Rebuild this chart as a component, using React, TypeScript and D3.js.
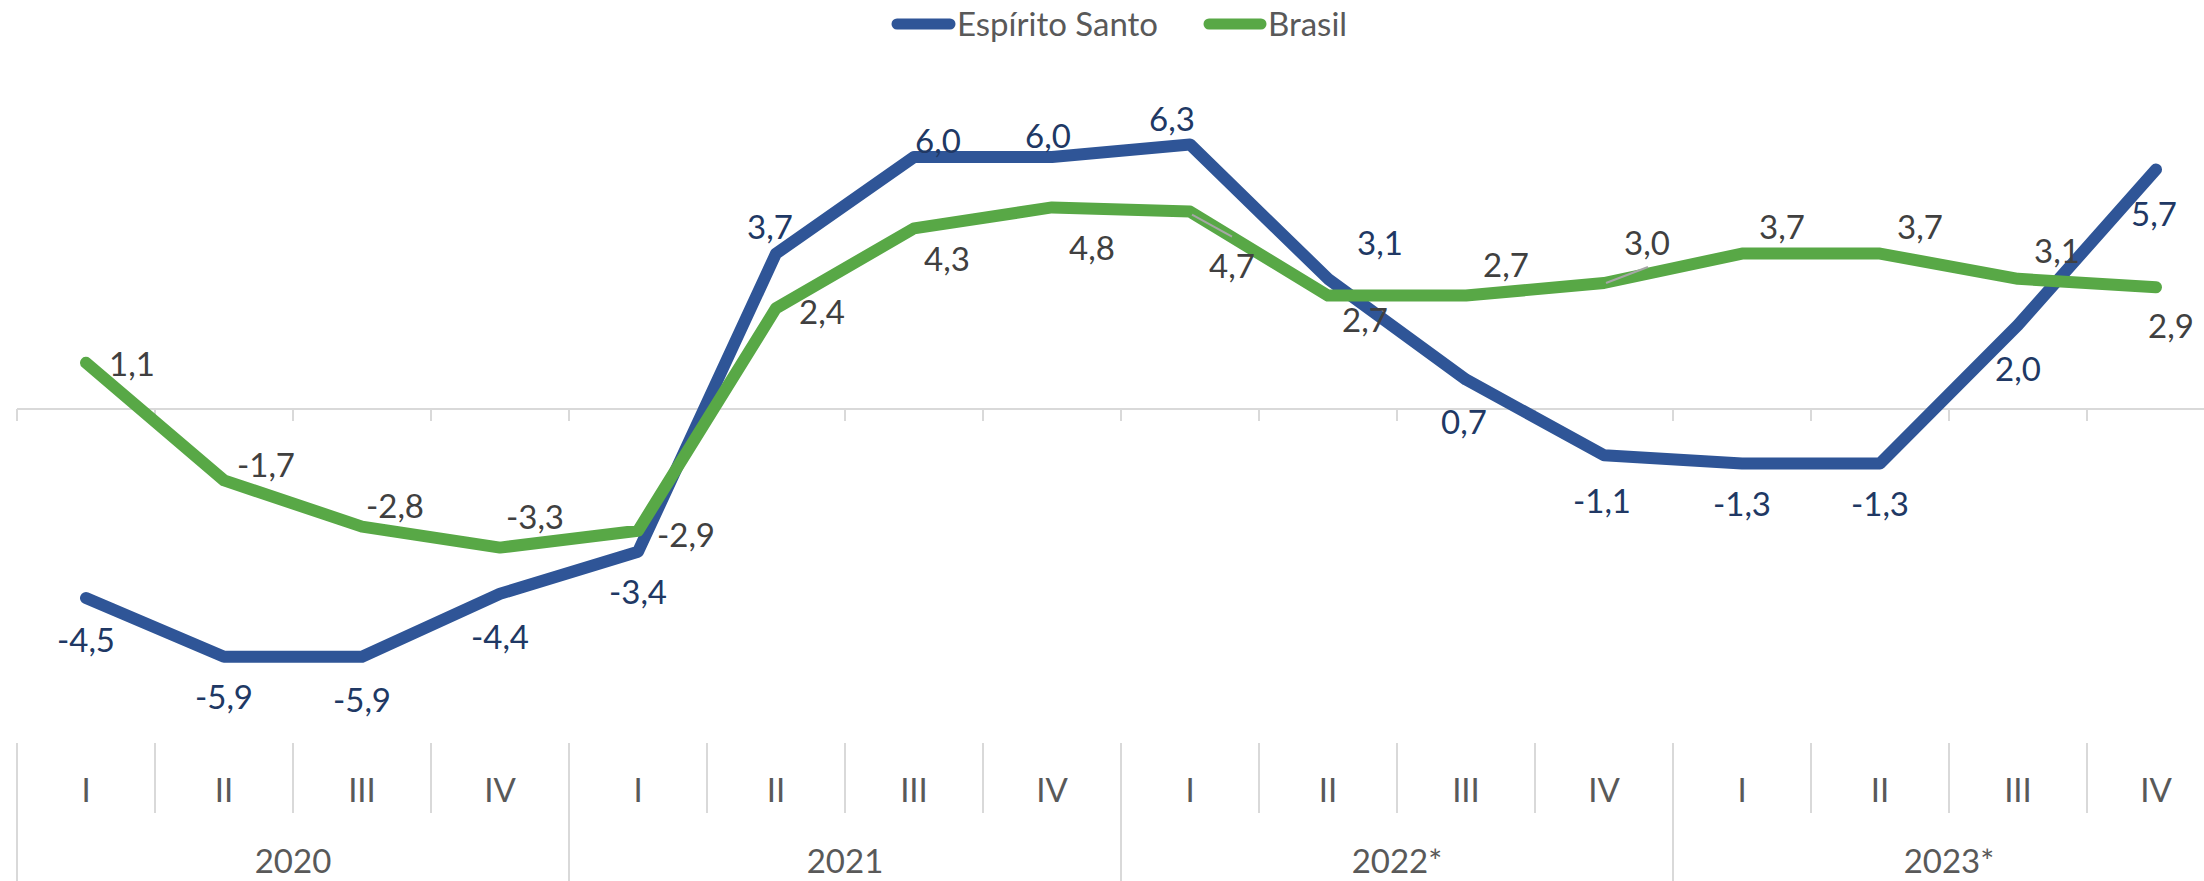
import * as d3 from 'd3'

const years = ['2020', '2021', '2022*', '2023*']
const quarters = ['I', 'II', 'III', 'IV']
const periods = years.flatMap((y) => quarters.map((q) => `${q}-${y}`))

const espiritoSanto = [-4.5, -5.9, -5.9, -4.4, -3.4, 3.7, 6.0, 6.0, 6.3, 3.1, 0.7, -1.1, -1.3, -1.3, 2.0, 5.7]
const brasil = [1.1, -1.7, -2.8, -3.3, -2.9, 2.4, 4.3, 4.8, 4.7, 2.7, 2.7, 3.0, 3.7, 3.7, 3.1, 2.9]

// nudges for the data labels (they were placed by hand in the original)
const esNudge = [
  [0, 42], [0, 40], [0, 43], [0, 43], [0, 40], [-6, -26], [24, -16], [-4, -21],
  [-18, -25], [52, -36], [-2, 43], [-2, 46], [0, 41], [0, 41], [0, 44], [-2, 45],
]
const brNudge = [
  [46, 1], [42, -15], [33, -20], [35, -30], [48, 4], [46, 4], [33, 31], [40, 41],
  [42, 55], [37, 25], [40, -30], [43, -40], [40, -26], [40, -26], [39, -28], [15, 39],
]

const series = [
  { name: 'Espírito Santo', values: espiritoSanto, color: '#2F5597', label: '#203864', nudge: esNudge },
  { name: 'Brasil', values: brasil, color: '#58A846', label: '#404040', nudge: brNudge },
]

const W = 2204
const H = 881
const FONT = 'Lato, "Open Sans", sans-serif'
const FS = 33
const GRID = '#D9D9D9'

const fmt = d3
  .formatLocale({ decimal: ',', thousands: '.', grouping: [3], currency: ['R$', ''], minus: '-' })
  .format('.1f')

export default function App() {
  const x = d3.scaleBand().domain(periods).range([17, 2225]).padding(0)
  const y = d3.scaleLinear().domain([-8, 8]).range([745, 73])
  const cx = (i: number) => (x(periods[i]) as number) + x.bandwidth() / 2

  const line = d3
    .line<number>()
    .x((_, i) => cx(i))
    .y((d) => y(d))

  const edges = d3.range(periods.length + 1).map((i) => 17 + i * x.bandwidth())
  const axisTop = 743

  return (
    <svg width={W} height={H} style={{ position: 'absolute', left: 0, top: 0, background: '#fff' }}>
      {/* zero line + ticks */}
      <line x1={17} x2={W} y1={y(0)} y2={y(0)} stroke={GRID} strokeWidth={2} />
      {edges.map((ex, i) => (
        <line key={'zt' + i} x1={ex} x2={ex} y1={y(0)} y2={y(0) + 12} stroke={GRID} strokeWidth={2} />
      ))}

      {/* category axis, quarters over years */}
      {edges.map((ex, i) => (
        <line
          key={'sep' + i}
          x1={ex}
          x2={ex}
          y1={axisTop}
          y2={i % 4 === 0 ? H : 813}
          stroke={GRID}
          strokeWidth={2}
        />
      ))}
      {periods.map((p, i) => (
        <text
          key={'q' + p}
          x={cx(i)}
          y={790}
          dy="0.36em"
          textAnchor="middle"
          fontFamily={FONT}
          fontSize={FS}
          fill="#595959"
        >
          {quarters[i % 4]}
        </text>
      ))}
      {years.map((yr, j) => (
        <text
          key={'y' + yr}
          x={(edges[j * 4] + edges[j * 4 + 4]) / 2}
          y={861}
          dy="0.36em"
          textAnchor="middle"
          fontFamily={FONT}
          fontSize={FS}
          fill="#595959"
        >
          {yr}
        </text>
      ))}

      {/* lines */}
      {series.map((s) => (
        <path
          key={s.name}
          d={line(s.values) as string}
          fill="none"
          stroke={s.color}
          strokeWidth={12}
          strokeLinejoin="round"
          strokeLinecap="round"
        />
      ))}

      {/* leader lines */}
      <line x1={cx(8) + 2} y1={y(brasil[8]) + 3} x2={cx(8) + 42} y2={y(brasil[8]) + 25} stroke="#A6A6A6" strokeWidth={2} />
      <line x1={cx(11) + 2} y1={y(brasil[11])} x2={cx(11) + 44} y2={y(brasil[11]) - 16} stroke="#A6A6A6" strokeWidth={2} />

      {/* data labels */}
      {series.map((s) =>
        s.values.map((v, i) => (
          <text
            key={s.name + i}
            x={cx(i) + s.nudge[i][0]}
            y={y(v) + s.nudge[i][1]}
            dy="0.36em"
            textAnchor="middle"
            fontFamily={FONT}
            fontSize={FS}
            fill={s.label}
          >
            {fmt(v)}
          </text>
        )),
      )}

      {/* legend */}
      <g fontFamily={FONT} fontSize={FS} fill="#595959">
        <line x1={897} x2={950} y1={24} y2={24} stroke={series[0].color} strokeWidth={11} strokeLinecap="round" />
        <text x={957} y={24} dy="0.36em">
          {series[0].name}
        </text>
        <line x1={1209} x2={1261} y1={24} y2={24} stroke={series[1].color} strokeWidth={11} strokeLinecap="round" />
        <text x={1268} y={24} dy="0.36em">
          {series[1].name}
        </text>
      </g>
    </svg>
  )
}
